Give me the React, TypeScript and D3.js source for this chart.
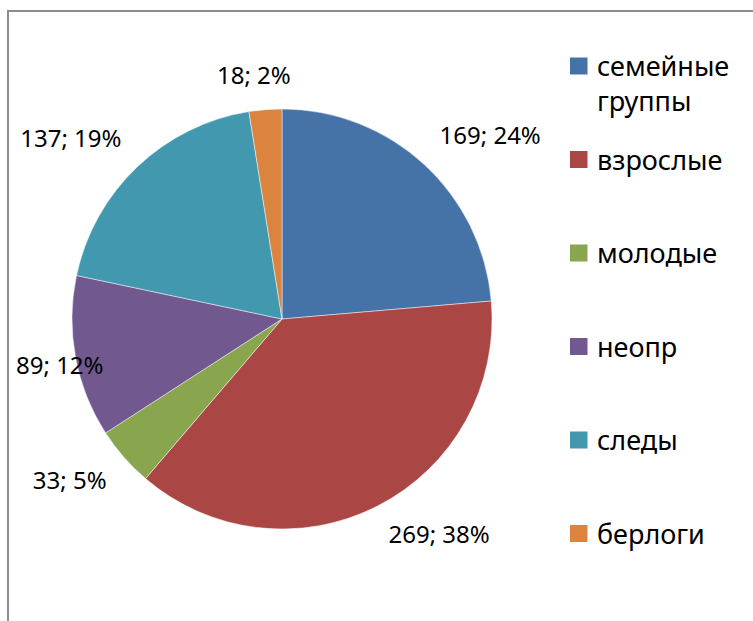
import React, { useRef, useEffect } from 'react'
import * as d3 from 'd3'

// categories and counts
const categories = ['семейные группы', 'взрослые', 'молодые', 'неопр', 'следы', 'берлоги']
const counts = [169, 269, 33, 89, 137, 18]
const percents = ['24%', '38%', '5%', '12%', '19%', '2%']
const colors = ['#4572A7', '#AA4643', '#89A54E', '#71588F', '#4198AF', '#DB843D']

const width = 753
const height = 621
const font = '"Noto Sans", "DejaVu Sans", sans-serif'

export default function App() {
    const svgRef = useRef<SVGSVGElement>(null)

    useEffect(() => {
        const svg = d3.select(svgRef.current)
        svg.selectAll('*').remove()

        // chart frame, runs off the right and bottom of the window
        svg.append('rect')
            .attr('x', 8).attr('y', 11)
            .attr('width', 900).attr('height', 800)
            .attr('fill', '#fff')
            .attr('stroke', '#8c8c8c')
            .attr('stroke-width', 2)

        const cx = 282
        const cy = 319
        const radius = 210

        const pie = d3.pie<number>().sort(null).value(d => d)
        const arcs = pie(counts)
        const arc = d3.arc<d3.PieArcDatum<number>>().innerRadius(0).outerRadius(radius)

        const g = svg.append('g').attr('transform', `translate(${cx},${cy})`)
        g.selectAll('path')
            .data(arcs)
            .join('path')
            .attr('d', arc)
            .attr('fill', (d, i) => colors[i])
            .attr('stroke', '#fff')
            .attr('stroke-opacity', 0.6)
            .attr('stroke-width', 0.8)

        // outside-end labels: box corner facing the centre sits on the mid-angle ray
        const labelDist = radius + 23
        const boxH = 20
        const clamp = (v: number) => Math.max(-1, Math.min(1, v))
        arcs.forEach((a, i) => {
            const mid = (a.startAngle + a.endAngle) / 2
            const s = Math.sin(mid)
            const c = -Math.cos(mid)
            const px = s * labelDist
            const py = c * labelDist
            const t = g.append('text')
                .attr('font-family', font)
                .attr('font-size', 24)
                .attr('fill', '#000')
                .attr('text-anchor', 'middle')
                .text(`${counts[i]}; ${percents[i]}`)
            const w = (t.node() as SVGTextElement).getComputedTextLength()
            let bx = px + clamp(s / 0.3) * w / 2
            const by = py + clamp(c / 0.3) * boxH / 2
            const minX = 16 - cx + w / 2
            if (bx < minX) bx = minX
            t.attr('x', bx).attr('y', by + boxH / 2 - 3)
        })

        // legend
        const legendX = 570
        const legendY = 66
        const step = 93.5
        const maxTextW = width - 597 - 4
        const leg = svg.append('g')
        categories.forEach((name, i) => {
            const y = legendY + i * step
            leg.append('rect')
                .attr('x', legendX).attr('y', y - 8.5)
                .attr('width', 17.5).attr('height', 17)
                .attr('fill', colors[i])
            const t = leg.append('text')
                .attr('font-family', font)
                .attr('font-size', 27)
                .attr('fill', '#000')
                .attr('x', 597).attr('y', y + 10)
            // simple word wrap
            const words = name.split(' ')
            let line: string[] = []
            let tspan = t.append('tspan').attr('x', 597)
            words.forEach(wd => {
                line.push(wd)
                tspan.text(line.join(' '))
                if ((tspan.node() as SVGTSpanElement).getComputedTextLength() > maxTextW && line.length > 1) {
                    line.pop()
                    tspan.text(line.join(' '))
                    line = [wd]
                    tspan = t.append('tspan').attr('x', 597).attr('dy', 35).text(wd)
                }
            })
        })
    }, [])

    return (
        <svg ref={svgRef} width={width} height={height}
            style={{ position: 'absolute', left: 0, top: 0, background: '#fff' }} />
    )
}
